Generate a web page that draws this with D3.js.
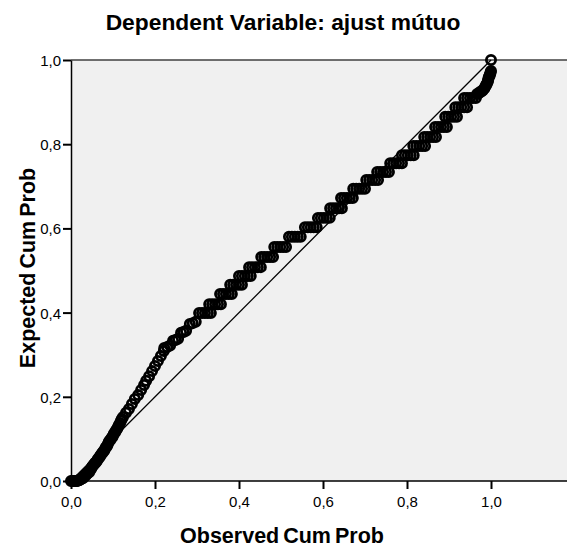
<!DOCTYPE html>
<html>
<head>
<meta charset="utf-8">
<script src="https://cdn.jsdelivr.net/npm/d3@7/dist/d3.min.js"></script>
<style>
  html, body { margin: 0; padding: 0; background: #ffffff; }
  svg { display: block; font-family: "Liberation Sans", Arial, sans-serif; }
</style>
</head>
<body>
<svg id="chart" width="567" height="550"></svg>
<script>
// Normal P-P plot of regression standardized residuals
const titleText = "Dependent Variable: ajust mútuo";
const xLabel = "Observed Cum Prob";
const yLabel = "Expected Cum Prob";
const xTicks = [0, 0.2, 0.4, 0.6, 0.8, 1.0];
const yTicks = [0, 0.2, 0.4, 0.6, 0.8, 1.0];

// Lower cases: [observed cum prob, expected cum prob]
const lowerCases = [
  [0.000,0.000],[0.003,0.000],[0.005,0.000],[0.008,0.000],[0.010,0.000],[0.012,0.000],
  [0.014,0.000],[0.017,0.001],[0.019,0.002],[0.021,0.003],[0.024,0.005],[0.026,0.006],
  [0.029,0.007],[0.031,0.010],[0.033,0.012],[0.036,0.014],[0.038,0.017],[0.040,0.019],
  [0.043,0.021],[0.045,0.025],[0.048,0.029],[0.050,0.033],[0.052,0.036],[0.055,0.040],
  [0.057,0.043],[0.060,0.045],[0.062,0.048],[0.064,0.052],[0.067,0.055],[0.069,0.059],
  [0.071,0.062],[0.074,0.066],[0.076,0.069],[0.079,0.072],[0.081,0.076],[0.083,0.080],
  [0.086,0.083],[0.088,0.088],[0.090,0.093],[0.093,0.097],[0.095,0.100],[0.098,0.104],
  [0.100,0.107],[0.102,0.112],[0.105,0.116],[0.107,0.120],[0.110,0.124],[0.112,0.128],
  [0.114,0.133],[0.117,0.138],[0.119,0.143],[0.121,0.147],[0.124,0.152],[0.131,0.162],
  [0.138,0.171],[0.145,0.183],[0.152,0.195],[0.160,0.204],[0.167,0.216],[0.174,0.228],
  [0.179,0.238],[0.186,0.249],[0.193,0.261],[0.200,0.273],[0.207,0.285],[0.214,0.297],
  [0.221,0.309],[0.222,0.316],[0.229,0.318],[0.236,0.322],[0.243,0.333],[0.249,0.335],
  [0.255,0.338],[0.262,0.352],[0.268,0.354],[0.274,0.357],[0.283,0.373],[0.290,0.375],
  [0.297,0.378]
];

// Middle cases come in tied groups: one expected value per group
const tieExpected = [
  0.399, 0.420, 0.444, 0.466, 0.487, 0.508, 0.532, 0.556, 0.580, 0.603, 0.625, 0.648,
  0.672, 0.694, 0.715, 0.734, 0.755, 0.774, 0.796, 0.817, 0.841, 0.865, 0.888, 0.910
];
const tieObserved = [
  [0.305,0.312,0.319,0.326,0.333],
  [0.329,0.336,0.343,0.350,0.357],
  [0.355,0.362,0.369,0.376,0.383],
  [0.379,0.386,0.393,0.400,0.407],
  [0.400,0.407,0.414,0.421,0.428],
  [0.424,0.431,0.438,0.445,0.452],
  [0.453,0.460,0.467,0.474,0.481],
  [0.484,0.491,0.498,0.505,0.512],
  [0.519,0.526,0.533,0.540,0.547],
  [0.557,0.564,0.571,0.578,0.585],
  [0.588,0.595,0.602,0.609,0.616],
  [0.617,0.624,0.631,0.638,0.645],
  [0.643,0.650,0.657,0.664,0.671],
  [0.672,0.679,0.686,0.693,0.700],
  [0.703,0.710,0.717,0.724,0.731],
  [0.729,0.736,0.743,0.750,0.757],
  [0.760,0.767,0.774,0.781,0.788],
  [0.788,0.795,0.802,0.809,0.816],
  [0.815,0.822,0.829,0.836,0.843],
  [0.841,0.848,0.855,0.862,0.869],
  [0.867,0.874,0.881,0.888,0.895],
  [0.891,0.898,0.905,0.912,0.919],
  [0.915,0.922,0.929,0.936,0.943],
  [0.936,0.943,0.950,0.957,0.964]
];

// Upper tail cases
const upperCases = [
  [0.967,0.919],[0.971,0.921],[0.974,0.924],[0.978,0.926],[0.981,0.929],[0.984,0.932],
  [0.986,0.936],[0.988,0.940],[0.990,0.943],[0.992,0.948],[0.993,0.952],[0.994,0.956],
  [0.995,0.960],[0.997,0.964],[0.998,0.967],[0.999,0.971],[1.000,0.974],[1.000,1.000]
];

const points = [];
lowerCases.forEach(([o, e]) => points.push({ o, e }));
tieObserved.forEach((row, i) => row.forEach(o => points.push({ o, e: tieExpected[i] })));
upperCases.forEach(([o, e]) => points.push({ o, e }));

const plot = { left: 71, top: 60, right: 567, bottom: 481 };

const x = d3.scaleLinear().domain([0, 1]).range([plot.left, 491]);
const y = d3.scaleLinear().domain([0, 1]).range([plot.bottom, plot.top]);

const locale = d3.formatLocale({ decimal: ",", thousands: ".", grouping: [3], currency: ["", ""] });
const fmt = locale.format(".1f");

const svg = d3.select("#chart");

// Grey plotting area
svg.append("rect")
  .attr("x", plot.left).attr("y", plot.top)
  .attr("width", plot.right - plot.left).attr("height", plot.bottom - plot.top)
  .attr("fill", "#f0f0f0");

// Top frame line
svg.append("line")
  .attr("x1", plot.left).attr("x2", plot.right)
  .attr("y1", plot.top).attr("y2", plot.top)
  .attr("stroke", "#404040").attr("stroke-width", 1.5);

// Reference diagonal
svg.append("line")
  .attr("x1", x(0)).attr("y1", y(0))
  .attr("x2", x(1)).attr("y2", y(1))
  .attr("stroke", "#000").attr("stroke-width", 1.3);

// Points
svg.append("g")
  .selectAll("circle")
  .data(points)
  .join("circle")
  .attr("cx", d => x(d.o))
  .attr("cy", d => y(d.e))
  .attr("r", 4.6)
  .attr("fill", "none")
  .attr("stroke", "#000")
  .attr("stroke-width", 2.8);

// Axes
const xAxis = d3.axisBottom(x).tickValues(xTicks).tickFormat(fmt).tickSize(8).tickSizeOuter(0);
const yAxis = d3.axisLeft(y).tickValues(yTicks).tickFormat(fmt).tickSize(8).tickSizeOuter(0);

const gx = svg.append("g").attr("transform", `translate(0,${plot.bottom})`).call(xAxis);
gx.select(".domain").attr("d", `M${plot.left},0H${plot.right}`).attr("stroke", "#000").attr("stroke-width", 1.5);
gx.selectAll(".tick line").attr("stroke", "#000").attr("stroke-width", 2);
gx.selectAll(".tick text")
  .attr("y", 0).attr("dy", null)
  .attr("transform", "translate(0,26)")
  .attr("font-size", 15).attr("font-family", "Liberation Sans, Arial, sans-serif").attr("fill", "#000");

const gy = svg.append("g").attr("transform", `translate(${plot.left},0)`).call(yAxis);
gy.select(".domain").attr("stroke", "#000").attr("stroke-width", 1.5);
gy.selectAll(".tick line").attr("stroke", "#000").attr("stroke-width", 2);
gy.selectAll(".tick text")
  .attr("x", -10).attr("dy", "0.36em")
  .attr("font-size", 15).attr("font-family", "Liberation Sans, Arial, sans-serif").attr("fill", "#000");

// Title and axis titles
svg.append("text")
  .attr("x", 283).attr("y", 30)
  .attr("text-anchor", "middle")
  .attr("font-size", 22.8).attr("font-weight", "bold")
  .text(titleText);

svg.append("text")
  .attr("x", 282).attr("y", 543)
  .attr("text-anchor", "middle")
  .attr("font-size", 21.5).attr("font-weight", "bold")
  .attr("word-spacing", -2)
  .text(xLabel);

svg.append("text")
  .attr("transform", `translate(35,268) rotate(-90)`)
  .attr("text-anchor", "middle")
  .attr("font-size", 21.5).attr("font-weight", "bold")
  .attr("word-spacing", -2)
  .text(yLabel);
</script>
</body>
</html>
